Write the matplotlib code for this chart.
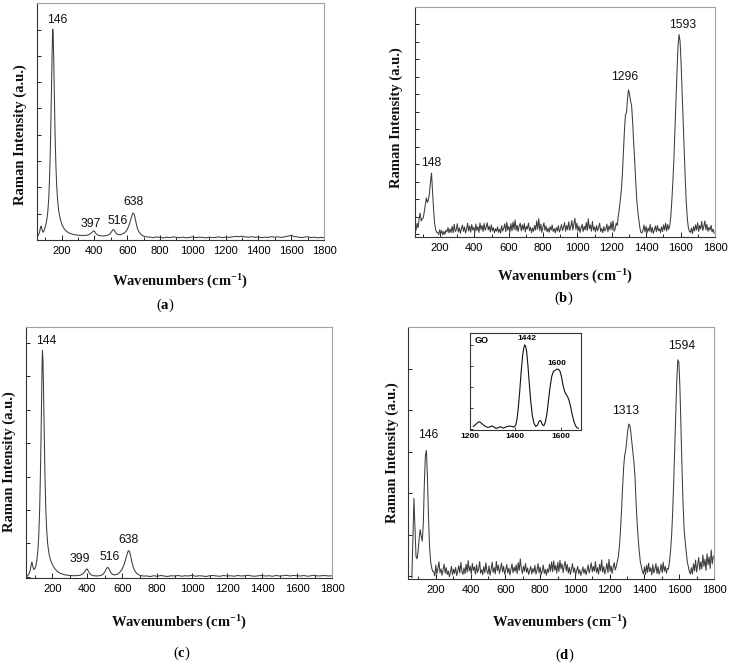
import numpy as np
import matplotlib
matplotlib.use("Agg")
import matplotlib.pyplot as plt
from matplotlib.ticker import MultipleLocator, NullFormatter

plt.rcParams['mathtext.fontset'] = 'custom'
plt.rcParams['mathtext.rm'] = 'Liberation Serif'
plt.rcParams['mathtext.bf'] = 'Liberation Serif:bold'
plt.rcParams['mathtext.it'] = 'Liberation Serif:italic'

# ---------------- data (intensity in % of axis height) ----------------
# (a)
a_x = [50, 58, 66, 72, 76, 80, 86, 92, 98, 104, 110, 116, 122, 127, 132, 136, 140, 143, 146, 149,
       152, 156, 160, 165, 170, 176, 183, 192, 202, 215, 230, 250, 275, 300, 330, 355, 370, 380, 388, 394,
       398, 403, 410, 420, 435, 455, 475, 490, 500, 507, 512, 517, 522, 530, 540, 555, 570, 585, 598, 608,
       616, 623, 630, 635, 640, 645, 650, 656, 662, 670, 680, 692, 705, 720]
a_y = [1.5, 2.0, 3.5, 5.5, 5.8, 4.5, 3.3, 3.8, 5.0, 6.5, 8.5, 12, 18, 27, 40, 54, 70, 82, 89, 86,
       76, 60, 45, 32, 23, 16.5, 12, 8.8, 6.5, 4.8, 3.6, 2.8, 2.3, 2.0, 1.9, 2.0, 2.4, 2.9, 3.4, 3.7,
       3.8, 3.4, 2.7, 2.1, 1.8, 1.7, 1.9, 2.3, 3.0, 3.8, 4.3, 4.4, 4.0, 3.0, 2.4, 2.2, 2.5, 3.1, 4.2, 5.6,
       7.3, 9.0, 10.6, 11.3, 11.2, 10.3, 8.6, 6.6, 5.0, 3.6, 2.6, 1.9, 1.5, 1.3]
a_flat_x = np.arange(740, 1801, 20)
a_flat_y = [1.2, 1.0, 1.3, 1.1, 0.9, 1.2, 1.0, 1.3, 1.1, 1.0, 1.2, 0.9, 1.1, 1.3, 1.0, 1.2, 1.1, 0.9,
            1.2, 1.0, 1.1, 1.3, 1.0, 1.2, 1.1, 1.3, 1.5, 1.4, 1.6, 1.3, 1.2, 1.4, 1.1, 1.3, 1.0, 1.2,
            1.1, 1.4, 1.2, 1.3, 1.1, 1.3, 1.6, 2.0, 1.4, 1.3, 1.0, 1.2, 1.4, 1.0, 1.2, 0.9, 1.1, 1.0]
a_peaks = ["146", "397", "516", "638"]
a_label_pos = [(176, 93), (377, 6.8), (540, 8), (637, 16.2)]

# (b)
b_x = np.arange(55, 1796, 6)
b_y = [
    # 55-181
    2.5, 3.0, 6.0, 4.0, 8.0, 10.4, 7.0, 8.0, 8.3, 11.0, 14.0, 17.0, 15.0, 16.2, 19.0, 24.0, 27.8, 20.0, 12.0, 6.0, 3.2, 2.0,
    # 187-1213
    2.1, 1.0, 3.2, 1.5, 2.8, 0.9, 2.4, 1.2, 3.0, 2.2, 4.1, 1.8,
    3.5, 2.0, 4.6, 1.9, 5.5, 2.4, 3.1, 5.8, 2.2, 4.0, 1.6, 3.7,
    5.2, 2.5, 4.4, 1.8, 3.3, 6.0, 2.6, 4.8, 2.1, 5.4, 3.0, 4.2,
    1.9, 5.6, 2.8, 4.5, 2.0, 6.1, 3.2, 5.0, 2.4, 5.9, 2.9, 4.3,
    6.2, 3.1, 4.7, 2.2, 5.3, 2.7, 4.0, 1.8, 3.6, 2.5, 4.4, 2.0,
    3.4, 1.7, 4.9, 2.6, 3.8, 5.7, 2.3, 6.4, 3.0, 4.6, 2.1, 5.8,
    2.7, 6.5, 3.3, 7.4, 2.9, 5.1, 2.4, 4.8, 6.0, 2.6, 5.3, 3.1,
    5.9, 2.2, 4.6, 3.5, 6.1, 2.8, 4.2, 1.9, 3.9, 2.5, 5.0, 3.0,
    7.0, 3.4, 8.0, 2.7, 5.6, 2.0, 4.3, 6.2, 2.9, 4.8, 2.3, 3.8,
    2.1, 4.5, 3.0, 5.2, 2.4, 3.6, 1.8, 4.1, 2.6, 4.9, 2.2, 3.5,
    5.4, 2.8, 4.2, 6.3, 2.5, 5.0, 3.2, 6.6, 2.9, 4.4, 7.2, 3.0,
    5.8, 8.1, 3.3, 6.0, 2.6, 4.7, 2.0, 3.9, 5.5, 2.4, 4.6, 3.1,
    6.3, 2.8, 7.9, 3.6, 5.2, 2.5, 6.8, 3.0, 4.4, 2.2, 5.0, 2.7,
    4.1, 6.0, 2.4, 3.7, 1.9, 4.5, 2.6, 3.4, 5.6, 2.3, 4.8, 3.2,
    6.5, 3.0, 7.0, 2.5,
    # 1219-1375
    3.5, 6.0, 5.0, 9.0, 12.0, 16.0, 20.0, 27.0, 37.0, 46.0, 53.0, 54.0, 60.0, 64.0, 62.0, 59.0, 57.0, 50.0,
    41.0, 33.0, 24.0, 16.0, 11.0, 7.5, 4.0, 2.0, 1.7,
    # 1381-1531
    3.0, 5.2, 2.2, 4.6, 1.8, 3.9, 2.5, 5.5, 2.0, 4.2, 1.6, 3.1, 4.8, 2.3, 5.0, 2.7, 3.6, 1.9, 4.4, 2.4,
    5.3, 3.0, 6.0, 2.6, 5.4, 3.3,
    # 1537-1651
    5.0, 9.0, 16.0, 24.0, 34.0, 47.0, 60.0, 72.0, 83.0, 88.0, 85.0, 75.0, 63.0, 50.0, 37.0, 25.0, 15.0, 8.0, 4.0, 2.5,
    # 1657-1795
    2.0, 3.8, 1.5, 4.5, 2.6, 5.3, 3.0, 6.2, 2.4, 5.0, 3.5, 6.8, 2.8, 4.6, 7.0, 3.1, 5.5, 2.5, 4.2, 3.0,
    5.1, 2.2, 3.4, 1.6,
]
b_peaks = ["148", "1296", "1593"]
b_label_pos = [(148, 32.3), (1277, 69.7), (1610, 92.2)]

# (c)
c_x = [50, 58, 66, 74, 80, 84, 88, 94, 100, 106, 112, 118, 123, 128, 132, 136, 139, 142, 144, 147,
       150, 154, 158, 163, 168, 174, 181, 190, 200, 212, 226, 245, 270, 300, 330, 360, 375, 385, 392, 397,
       401, 406, 413, 422, 437, 457, 478, 492, 502, 509, 514, 519, 524, 532, 542, 556, 572, 587, 600, 610,
       618, 625, 632, 636, 640, 645, 650, 656, 663, 671, 681, 693, 706, 720]
c_y = [0.6, 0.8, 1.5, 3.0, 5.5, 6.4, 4.8, 3.4, 3.6, 4.8, 7.0, 11, 17, 27, 40, 56, 71, 85, 90.7, 87,
       76, 58, 42, 28, 19.5, 13.5, 9.8, 7.2, 5.5, 4.0, 2.8, 1.9, 1.3, 1.0, 0.9, 1.1, 1.6, 2.4, 3.2, 3.6,
       3.5, 2.8, 1.9, 1.3, 0.9, 0.8, 1.0, 1.6, 2.6, 3.6, 4.1, 4.2, 3.7, 2.5, 1.6, 1.2, 1.5, 2.3, 3.6, 5.2,
       7.0, 8.8, 10.3, 10.9, 10.8, 9.9, 8.2, 6.2, 4.4, 3.0, 2.0, 1.3, 1.0, 0.8]
c_flat_x = np.arange(740, 1801, 20)
c_flat_y = [0.8, 0.6, 0.9, 0.7, 1.0, 0.8, 0.6, 0.9, 0.8, 1.0, 0.7, 0.9, 0.8, 1.1, 0.7, 0.9, 0.8, 0.6,
            0.9, 1.0, 0.8, 0.7, 1.0, 0.8, 0.9, 0.7, 1.0, 0.8, 0.9, 1.1, 0.8, 0.7, 0.9, 1.0, 0.8, 0.9,
            0.7, 1.0, 0.8, 0.9, 1.1, 0.8, 1.0, 0.9, 0.8, 1.0, 0.7, 0.9, 1.1, 0.8, 0.9, 1.0, 0.8, 0.9]
c_peaks = ["144", "399", "516", "638"]
c_label_pos = [(163, 94.3), (359, 7.7), (526, 8.2), (635, 15)]

# (d)
d_x = np.arange(62, 1800, 6)
d_y = [
    # 62-182
    0.5, 15, 32, 20, 9, 8, 11, 16, 19.6, 17, 15, 22, 38, 49, 51, 40, 24, 13, 7, 4.5, 3,
    # 188-1232
    3.0, 1.2, 5.5, 2.0, 4.2, 6.8, 2.5, 4.0, 1.5, 3.6, 5.9, 2.3,
    4.5, 1.8, 3.2, 0.9, 2.8, 5.0, 1.6, 3.9, 2.2, 4.6, 1.4, 3.1,
    5.3, 2.4, 6.6, 3.0, 1.8, 4.4, 2.1, 5.8, 2.7, 7.3, 3.2, 5.0,
    2.0, 6.2, 3.4, 4.8, 1.9, 5.6, 2.6, 4.0, 6.9, 2.3, 3.7, 1.7,
    4.9, 2.5, 6.4, 3.1, 2.0, 5.2, 1.5, 3.8, 6.7, 2.6, 4.5, 2.0,
    7.0, 3.3, 5.5, 2.2, 4.1, 6.3, 2.8, 5.0, 1.9, 3.5, 5.7, 2.4,
    4.3, 1.6, 3.9, 6.0, 2.5, 4.7, 3.0, 5.6, 2.1, 6.5, 3.4, 8.0,
    4.0, 2.2, 5.1, 3.0, 6.2, 2.6, 4.4, 1.8, 3.3, 5.0, 2.0, 4.1,
    2.7, 5.4, 1.9, 3.6, 6.1, 2.4, 4.7, 1.7, 3.2, 5.5, 2.2, 3.8,
    1.5, 4.0, 2.6, 5.9, 3.1, 6.8, 2.9, 7.2, 3.5, 5.4, 2.3, 6.6,
    3.0, 7.4, 4.1, 6.0, 2.5, 5.1, 7.0, 3.2, 5.8, 2.4, 4.6, 1.8,
    3.9, 6.1, 2.7, 4.4, 1.6, 3.3, 5.0, 2.1, 3.7, 1.4, 2.9, 4.8,
    2.3, 4.0, 1.7, 3.5, 5.6, 2.4, 4.2, 6.4, 2.8, 5.0, 3.1, 6.9,
    2.6, 4.5, 1.9, 5.8, 3.2, 7.6, 2.7, 4.9, 2.0, 3.8, 6.2, 2.5,
    7.8, 3.0, 5.2, 2.2, 4.6, 6.5, 3.6,
    # 1238-1388
    5, 7, 9, 13, 19, 27, 36, 44, 49, 51, 55, 59, 61.5, 61, 58, 54, 50, 46, 40, 30, 22, 16, 11, 7, 5, 3,
    # 1394-1532
    2.0, 4.8, 1.8, 5.5, 2.6, 6.3, 3.0, 4.4, 1.6, 5.7, 2.4, 3.8, 6.1, 2.2, 4.9, 1.9, 3.4, 5.8, 2.5, 6.6,
    3.1, 5.0, 2.3, 4.2,
    # 1538-1664
    4, 7, 11, 17, 26, 38, 52, 66, 79, 87, 86, 76, 60, 44, 30, 20, 15, 11, 7, 5, 3, 2,
    # 1670-1796
    4.5, 2.0, 6.0, 3.2, 7.5, 2.8, 5.5, 8.5, 3.6, 6.8, 4.0, 9.5, 5.0, 7.8, 3.4, 10.0, 5.6, 8.8, 4.2, 11.5,
    6.0, 9.0,
]
d_peaks = ["146", "1313", "1594"]
d_label_pos = [(157, 57.3), (1292, 66.5), (1614, 92.3)]

# (d) inset: GO
go_x = [1215, 1225, 1235, 1242, 1250, 1260, 1270, 1280, 1290, 1297, 1305, 1315, 1325, 1335, 1346, 1355,
        1365, 1374, 1385, 1394, 1402, 1408, 1414, 1420, 1426, 1432, 1437, 1441, 1445, 1450, 1456, 1462,
        1468, 1475, 1482, 1490, 1498, 1505, 1512, 1519, 1526, 1533, 1540, 1547, 1554, 1561, 1568, 1576,
        1585, 1592, 1598, 1604, 1610, 1617, 1624, 1631, 1638, 1645, 1652, 1659, 1666, 1672, 1678]
go_y = [2.7, 4.8, 6.9, 7.6, 6.2, 4.1, 2.4, 1.7, 2.4, 3.4, 2.1, 0.7, 1.4, 2.4, 1.0, 1.7,
        2.7, 3.1, 2.7, 2.1, 4.1, 11, 24, 41, 60, 75.6, 84, 87.6, 86.6, 80.8, 65.3, 46.4,
        29.2, 14.4, 6.2, 2.7, 4.1, 8.2, 8.9, 4.8, 3.4, 7.6, 16.5, 31, 44.7, 55, 59.8, 61.2,
        62.5, 61.9, 59.8, 54.3, 46.4, 39.5, 36.1, 33.7, 29.2, 22.3, 14.4, 7.6, 3.4, 1.4, 0.7]
go_peaks = ["1442", "1600"]
go_label_pos = [(1451, 93.8), (1583, 68)]

# ---------------- figure ----------------
W, H = 729, 666
fig = plt.figure(figsize=(W / 100, H / 100), dpi=100)
fig.patch.set_facecolor('white')

LINE = '#3c3c3c'
SANS = 'Liberation Sans'
SERIF = 'Liberation Serif'


def rect(l, t, r, b):
    return [l / W, 1 - b / H, (r - l) / W, (b - t) / H]


def ftext(x, y, s, **kw):
    fig.text(x / W, 1 - y / H, s, **kw)


def style(ax, xlim, ystep, yoff):
    ax.set_xlim(*xlim)
    ax.set_ylim(0, 100)
    ax.xaxis.set_major_locator(MultipleLocator(200))
    ax.xaxis.set_minor_locator(MultipleLocator(100))
    ax.yaxis.set_major_locator(MultipleLocator(ystep, offset=yoff))
    ax.yaxis.set_major_formatter(NullFormatter())
    ax.tick_params(axis='both', which='both', direction='in', top=False, right=False,
                   color='#222222', width=0.7)
    ax.tick_params(axis='x', which='major', length=3.5, labelsize=8, pad=4)
    ax.tick_params(axis='x', which='minor', length=2)
    ax.tick_params(axis='y', which='major', length=3)
    for lab in ax.get_xticklabels():
        lab.set_fontfamily(SANS)
    for sp in ['left', 'bottom']:
        ax.spines[sp].set_color('#333333')
        ax.spines[sp].set_linewidth(0.8)
    for sp in ['top', 'right']:
        ax.spines[sp].set_color('#a0a0a0')
        ax.spines[sp].set_linewidth(0.8)


def labels(ax, names, pos):
    for n, (x, y) in zip(names, pos):
        ax.text(x, y, n, ha='center', va='center', fontsize=8.7, family=SANS, color='#111111')


XLAB = r'Wavenumbers (cm$^{\mathbf{-1}}$)'
YLAB = 'Raman Intensity (a.u.)'
lab_kw = dict(fontsize=10.5, family=SERIF, fontweight='bold', ha='center', va='center', color='#111111')

# (a)
axa = fig.add_axes(rect(37, 3, 324, 240))
axa.plot(list(a_x) + list(a_flat_x), list(a_y) + list(a_flat_y), color=LINE, lw=0.75)
style(axa, (50, 1800), 11.1, 0)
labels(axa, a_peaks, a_label_pos)
ftext(180, 282, XLAB, **lab_kw)
ftext(20, 135, YLAB, rotation=90, **lab_kw)
ftext(165, 305, r'($\mathbf{a}$)', fontsize=10.5, family=SERIF, ha='center', va='center')

# (b)
axb = fig.add_axes(rect(415, 7, 715, 237))
axb.plot(b_x, b_y, color=LINE, lw=0.75)
style(axb, (55, 1800), 7.6, 1.3)
labels(axb, b_peaks, b_label_pos)
ftext(565, 277, XLAB, **lab_kw)
ftext(396, 118, YLAB, rotation=90, **lab_kw)
ftext(564, 298, r'($\mathbf{b}$)', fontsize=10.5, family=SERIF, ha='center', va='center')

# (c)
axc = fig.add_axes(rect(26, 327, 332, 578))
axc.plot(list(c_x) + list(c_flat_x), list(c_y) + list(c_flat_y), color=LINE, lw=0.75)
style(axc, (50, 1800), 13.3, 0.5)
labels(axc, c_peaks, c_label_pos)
ftext(179, 623, XLAB, **lab_kw)
ftext(9, 462, YLAB, rotation=90, **lab_kw)
ftext(182, 653, r'($\mathbf{c}$)', fontsize=10.5, family=SERIF, ha='center', va='center')

# (d)
axd = fig.add_axes(rect(408, 327, 714, 579))
axd.plot(d_x, d_y, color=LINE, lw=0.75)
style(axd, (40, 1800), 16.5, 1.0)
labels(axd, d_peaks, d_label_pos)
ftext(560, 623, XLAB, **lab_kw)
ftext(392, 453, YLAB, rotation=90, **lab_kw)
ftext(565, 655, r'($\mathbf{d}$)', fontsize=10.5, family=SERIF, ha='center', va='center')

# inset
axi = fig.add_axes(rect(470, 333, 581, 430))
axi.plot(go_x, go_y, color='#111111', lw=0.8)
axi.set_xlim(1200, 1690)
axi.set_ylim(-1, 100)
axi.xaxis.set_major_locator(MultipleLocator(200))
axi.yaxis.set_major_locator(MultipleLocator(22))
axi.yaxis.set_major_formatter(NullFormatter())
axi.tick_params(axis='both', direction='in', top=False, right=False, length=2, width=0.6,
                labelsize=6, pad=2, color='#222222')
for lab in axi.get_xticklabels():
    lab.set_fontfamily(SANS)
    lab.set_fontweight('bold')
for sp in axi.spines.values():
    sp.set_color('#333333')
    sp.set_linewidth(0.8)
axi.text(1252, 92, 'GO', ha='center', va='center', fontsize=6.5, family=SANS, fontweight='bold')
for n, (x, y) in zip(go_peaks, go_label_pos):
    axi.text(x, y, n, ha='center', va='center', fontsize=6, family=SANS, fontweight='bold')

fig.savefig('out.png', dpi=100, facecolor='white')
